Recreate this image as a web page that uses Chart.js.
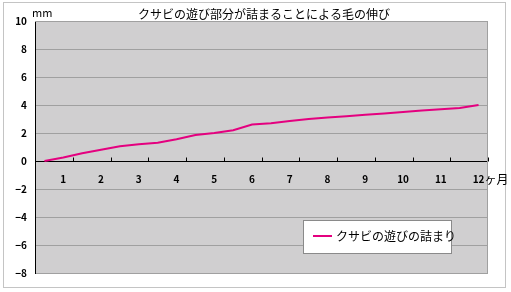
<!DOCTYPE html>
<html>
<head>
<meta charset="utf-8">
<script src="https://cdn.jsdelivr.net/npm/chart.js@4.4.0/dist/chart.umd.min.js"></script>
<style>
  html, body { margin: 0; padding: 0; background: #fff; }
  #wrap { width: 511px; height: 292px; }
</style>
</head>
<body>
<div id="wrap"><canvas id="growth" width="511" height="292"></canvas></div>
<script>
// half-month steps, only whole months get a label
const monthLabels = ['', '1', '', '2', '', '3', '', '4', '', '5', '', '6',
                     '', '7', '', '8', '', '9', '', '10', '', '11', '', '12'];
const growthMm = [0, 0.25, 0.55, 0.8, 1.05, 1.2, 1.3, 1.55, 1.85, 2.0, 2.2, 2.6,
                  2.7, 2.85, 3.0, 3.1, 3.2, 3.3, 3.4, 3.5, 3.6, 3.7, 3.78, 4.0];
const yTicks = [-8, -6, -4, -2, 0, 2, 4, 6, 8, 10];

const chartTitle = 'クサビの遊び部分が詰まることによる毛の伸び';
const seriesName = 'クサビの遊びの詰まり';
const unitY = 'mm';
const unitX = 'ヶ月';

const FONT = '"Noto Sans CJK JP", "Noto Sans", sans-serif';
const lineColor = '#e4007f';

const decorations = {
    id: 'decorations',
    beforeDraw(chart) {
        const {ctx, chartArea: a} = chart;
        ctx.save();
        ctx.fillStyle = '#fff';
        ctx.fillRect(0, 0, chart.width, chart.height);
        ctx.strokeStyle = '#c4c4c4';
        ctx.lineWidth = 1;
        ctx.strokeRect(3.5, 2.5, 502, 285);
        ctx.fillStyle = '#d0cfd0';
        ctx.fillRect(a.left, a.top, a.right - a.left, a.bottom - a.top);
        ctx.restore();
    },
    afterDatasetsDraw(chart) {
        const {ctx, chartArea: a, scales: {x, y}} = chart;
        ctx.save();
        // plot frame top / right
        ctx.strokeStyle = '#a0a0a0';
        ctx.beginPath();
        ctx.moveTo(a.left, a.top + 0.5);
        ctx.lineTo(a.right - 0.5, a.top + 0.5);
        ctx.lineTo(a.right - 0.5, a.bottom);
        ctx.stroke();

        // tick marks between whole months on the zero line
        const y0 = Math.round(y.getPixelForValue(0)) + 0.5;
        ctx.strokeStyle = '#000';
        ctx.beginPath();
        for (let i = 1; i < monthLabels.length; i += 2) {
            const px = i + 1 < monthLabels.length
                ? (x.getPixelForValue(i) + x.getPixelForValue(i + 1)) / 2
                : a.right;
            ctx.moveTo(Math.round(px) + 0.5, y0);
            ctx.lineTo(Math.round(px) + 0.5, y0 - 4);
        }
        ctx.stroke();

        // texts
        ctx.fillStyle = '#000';
        ctx.textBaseline = 'middle';
        ctx.font = '12px ' + FONT;
        ctx.textAlign = 'center';
        ctx.fillText(chartTitle, 264, 14);
        ctx.font = '11px ' + FONT;
        ctx.textAlign = 'left';
        ctx.fillText(unitY, 32, 13);
        ctx.font = 'bold 10px ' + FONT;
        const last = monthLabels.length - 1;
        const lastW = ctx.measureText(monthLabels[last]).width;
        ctx.font = '12px ' + FONT;
        ctx.fillText(unitX, x.getPixelForValue(last) + lastW / 2, 179);

        // legend box
        ctx.shadowColor = 'rgba(0,0,0,0.25)';
        ctx.shadowOffsetX = 1;
        ctx.shadowOffsetY = 1;
        ctx.fillStyle = '#fff';
        ctx.fillRect(303, 220, 148, 33);
        ctx.shadowColor = 'transparent';
        ctx.strokeStyle = '#8a8a8a';
        ctx.strokeRect(303.5, 220.5, 148, 33);
        ctx.strokeStyle = lineColor;
        ctx.lineWidth = 2;
        ctx.beginPath();
        ctx.moveTo(313, 236);
        ctx.lineTo(332, 236);
        ctx.stroke();
        ctx.fillStyle = '#000';
        ctx.font = '12px ' + FONT;
        ctx.fillText(chart.data.datasets[0].label, 336, 236);
        ctx.restore();
    }
};

new Chart(document.getElementById('growth'), {
    type: 'line',
    data: {
        labels: monthLabels,
        datasets: [{
            label: seriesName,
            data: growthMm,
            borderColor: lineColor,
            borderWidth: 2,
            pointRadius: 0,
            tension: 0,
            fill: false,
        }],
    },
    options: {
        responsive: false,
        animation: false,
        layout: {padding: {left: 0, top: 21, right: 23, bottom: 19}},
        plugins: {legend: {display: false}, title: {display: false}, tooltip: {enabled: false}},
        scales: {
            x: {
                type: 'category',
                offset: true,
                position: {y: 0},
                afterFit: (scale) => { scale.height = 0; },
                grid: {display: false, drawTicks: false},
                border: {display: false},
                ticks: {
                    autoSkip: false,
                    maxRotation: 0,
                    padding: 12,
                    color: '#000',
                    font: {family: FONT, size: 10, weight: 'bold'},
                },
            },
            y: {
                min: -8,
                max: 10,
                afterFit: (scale) => { scale.width = 35; },
                afterBuildTicks: (scale) => { scale.ticks = yTicks.map(v => ({value: v})); },
                grid: {
                    drawTicks: false,
                    color: (c) => c.tick && c.tick.value === 0 ? '#000' : '#a0a0a0',
                },
                border: {color: '#000'},
                ticks: {
                    padding: 8,
                    color: '#000',
                    font: {family: FONT, size: 10, weight: 'bold'},
                    callback: (v) => String(v).replace('-', '\u2212'),
                },
            },
        },
    },
    plugins: [decorations],
});
</script>
</body>
</html>
